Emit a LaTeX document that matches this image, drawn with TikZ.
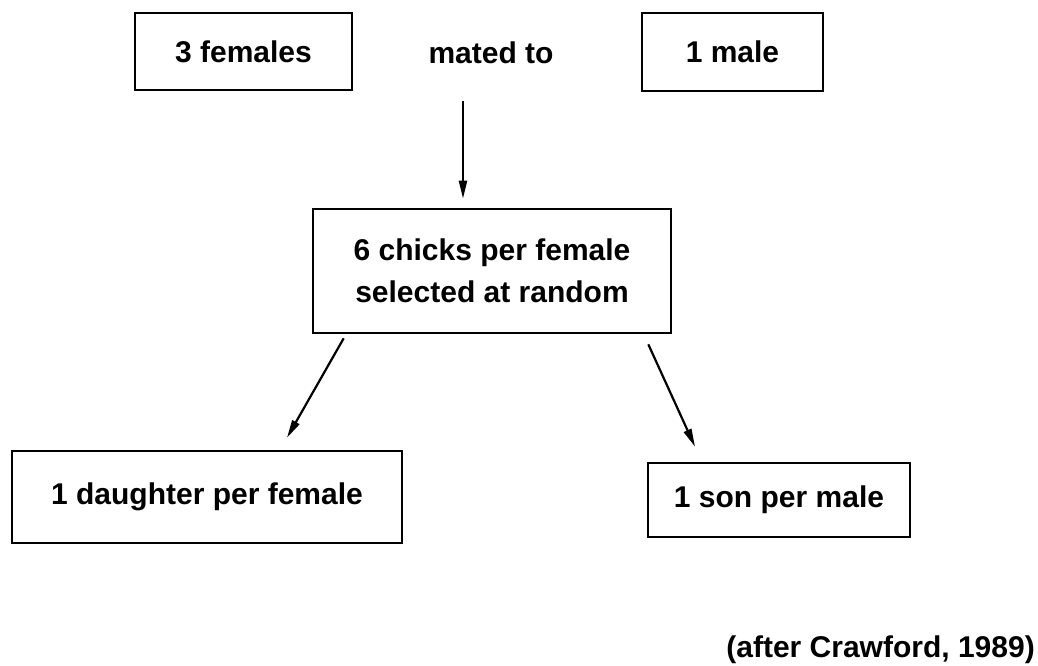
\documentclass[tikz,border=0pt]{standalone}
\usepackage{fontspec}
\setmainfont{Liberation Sans}
\usetikzlibrary{arrows.meta}
\tikzset{
  lbl/.style={font=\bfseries\fontsize{30}{42}\selectfont, inner sep=0pt, align=center},
  box/.style={lbl, draw, line width=2.6pt},
  arr/.style={line width=2.2pt, -{Triangle[length=18pt,width=8pt]}}
}
\begin{document}
\begin{tikzpicture}[x=1pt,y=-1pt]
\useasboundingbox (0,0) rectangle (1038,665);
\node[box, minimum width=217pt, minimum height=77pt] (fem) at (243.5,51.5) {3 females};
\node[lbl] (mated) at (491,53) {mated to};
\node[box, minimum width=181pt, minimum height=78pt] (male) at (732.5,52) {1 male};
\node[box, minimum width=358pt, minimum height=124pt] (mid) at (492,271) {6 chicks per female\\selected at random};
\node[box, minimum width=390pt, minimum height=92pt] (dau) at (207,497) {1 daughter per female};
\node[box, minimum width=262pt, minimum height=74pt] (son) at (779,500) {1 son per male};
\node[lbl, anchor=east] (credit) at (1035,650) {(after Crawford, 1989)};
\draw[arr] ([xshift=-28pt,yshift=-37pt]mated.south) -- ([xshift=-29pt,yshift=9pt]mid.north);
\draw[arr] ([xshift=32pt,yshift=-4pt]mid.south west) -- ([xshift=80pt,yshift=12pt]dau.north);
\draw[arr] ([xshift=-24pt,yshift=-10pt]mid.south east) -- ([xshift=-84pt,yshift=15pt]son.north);
\end{tikzpicture}
\end{document}
